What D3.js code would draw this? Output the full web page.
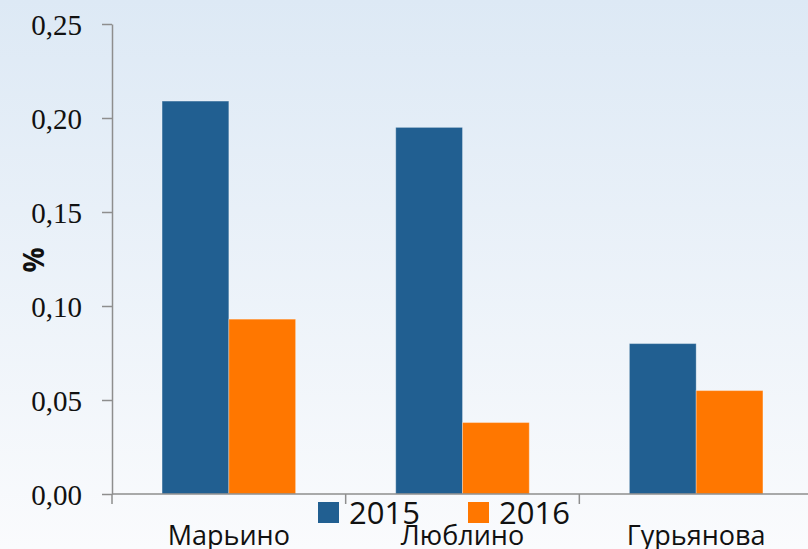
<html>
<head>
  <meta charset="utf-8">
  <script src="https://d3js.org/d3.v7.min.js"></script>
  <style>
    body { margin: 0; overflow: hidden; }
    .y-axis text { font-family: 'Liberation Serif', serif; font-size: 29px; fill: #111; }
    .y-axis path, .y-axis line, .x-axis line { stroke: #8e8e8e; stroke-width: 1.5; }
    .cat { font-family: 'Open Sans', sans-serif; font-size: 27px; fill: #111; }
    .legend text { font-family: 'Open Sans', sans-serif; font-size: 31px; fill: #111; }
  </style>
</head>
<body>
  <div id="chart"></div>
  <script type="text/javascript">

    // data
    var categories = ['Марьино', 'Люблино', 'Гурьянова'];
    var years = ['2015', '2016'];
    var values2015 = [0.209, 0.195, 0.080];
    var values2016 = [0.093, 0.038, 0.055];
    var yTicks = [0, 0.05, 0.10, 0.15, 0.20, 0.25];
    var colors = ['#215f91', '#ff7700'];

    var W = 808, H = 549;
    var plotLeft = 112, plotRight = 813, plotTop = 24, plotBottom = 494;

    var svg = d3.select('#chart').append('svg')
      .attr('width', W).attr('height', H);

    var grad = svg.append('defs').append('linearGradient')
      .attr('id', 'bg').attr('x1', 0).attr('y1', 0).attr('x2', 0).attr('y2', 1);
    grad.append('stop').attr('offset', '0%').attr('stop-color', '#dde9f5');
    grad.append('stop').attr('offset', '100%').attr('stop-color', '#fafbfd');
    svg.append('rect').attr('width', W).attr('height', H).attr('fill', 'url(#bg)');

    var x0 = d3.scaleBand().domain(categories).range([plotLeft, plotRight]).padding(0);
    var x1 = d3.scaleBand().domain(years).range([0, x0.bandwidth()])
      .paddingInner(0).paddingOuter(0.75);
    var y = d3.scaleLinear().domain([0, 0.25]).range([plotBottom, plotTop]);
    var color = d3.scaleOrdinal().domain(years).range(colors);

    var rows = categories.map(function(c, i) {
      return {cat: c, values: [{key: '2015', v: values2015[i]}, {key: '2016', v: values2016[i]}]};
    });

    // bars
    svg.append('g').selectAll('g')
      .data(rows)
      .enter().append('g')
        .attr('transform', function(d) { return 'translate(' + x0(d.cat) + ',0)'; })
      .selectAll('rect')
      .data(function(d) { return d.values; })
      .enter().append('rect')
        .attr('x', function(d) { return x1(d.key); })
        .attr('y', function(d) { return y(d.v); })
        .attr('width', x1.bandwidth())
        .attr('height', function(d) { return y(0) - y(d.v); })
        .attr('fill', function(d) { return color(d.key); })
        .attr('stroke', 'rgba(255,255,255,0.3)')
        .attr('stroke-width', 1);

    // y axis
    var yAxis = d3.axisLeft(y)
      .tickValues(yTicks)
      .tickSize(10)
      .tickSizeOuter(0)
      .tickPadding(20)
      .tickFormat(function(d) { return d3.format('.2f')(d).replace('.', ','); });

    svg.append('g')
      .attr('class', 'y-axis')
      .attr('transform', 'translate(' + plotLeft + ',0)')
      .call(yAxis)
      .selectAll('text').attr('dy', '0.35em');

    // x axis line + category boundary ticks
    var xa = svg.append('g').attr('class', 'x-axis');
    xa.append('line')
      .attr('x1', plotLeft).attr('x2', plotRight + 20)
      .attr('y1', plotBottom).attr('y2', plotBottom);
    var bounds = categories.map(function(c) { return x0(c); }).concat([plotRight]);
    xa.selectAll('.bt').data(bounds).enter().append('line')
      .attr('class', 'bt')
      .attr('x1', function(d) { return d; }).attr('x2', function(d) { return d; })
      .attr('y1', plotBottom).attr('y2', plotBottom + 10);

    svg.selectAll('.cat').data(categories).enter().append('text')
      .attr('class', 'cat')
      .attr('x', function(d) { return x0(d) + x0.bandwidth() / 2; })
      .attr('y', 545)
      .attr('text-anchor', 'middle')
      .text(function(d) { return d; });

    // % label
    svg.append('text')
      .attr('transform', 'translate(44,260) rotate(-90)')
      .attr('text-anchor', 'middle')
      .style('font-family', "'Open Sans', sans-serif")
      .style('font-weight', 'bold')
      .style('font-size', '28px')
      .style('fill', '#111')
      .text('%');

    // legend
    var lg = svg.append('g').attr('class', 'legend');
    var legX = [318, 468];
    years.forEach(function(yr, i) {
      lg.append('rect')
        .attr('x', legX[i]).attr('y', 502)
        .attr('width', 21).attr('height', 21)
        .attr('fill', color(yr));
      lg.append('text')
        .attr('x', legX[i] + 31).attr('y', 524)
        .text(yr);
    });

  </script>
</body>
</html>
